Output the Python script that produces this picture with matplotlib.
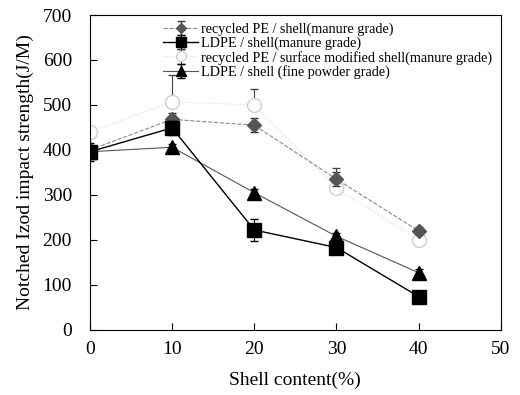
import matplotlib
matplotlib.use("Agg")
import matplotlib.pyplot as plt

plt.rcParams['font.family'] = ['Liberation Serif', 'DejaVu Serif']

x = [0, 10, 20, 30, 40]
rpe_shell = [400, 468, 455, 335, 220]
rpe_shell_err = [10, 15, 15, 15, 8]
ldpe_shell = [396, 449, 222, 183, 74]
ldpe_shell_err = [20, 15, 25, 12, 6]
rpe_mod = [440, 507, 500, 315, 200]
rpe_mod_err = [10, 60, 35, 45, 8]
ldpe_fine = [396, 406, 305, 208, 127]
ldpe_fine_err = [8, 8, 8, 8, 8]

labels = ["recycled PE / shell(manure grade)",
          "LDPE / shell(manure grade)",
          "recycled PE / surface modified shell(manure grade)",
          "LDPE / shell (fine powder grade)"]

fig = plt.figure(figsize=(5.2, 3.95), dpi=100)
ax = fig.add_axes([0.173, 0.165, 0.79, 0.797])

ax.errorbar(x, rpe_mod, yerr=[[0]*5, rpe_mod_err], color='#d8d8d8', lw=0.8, ls=':',
            marker='o', ms=10, mfc='white', mec='#cfcfcf', capsize=3,
            ecolor='#444444', elinewidth=0.8, label=labels[2], zorder=2)
ax.errorbar(x, rpe_shell, yerr=rpe_shell_err, color='#8a8a8a', lw=0.8, ls='--',
            marker='D', ms=7, mfc='#555555', mec='#555555', capsize=3,
            ecolor='#333333', elinewidth=0.8, label=labels[0], zorder=3)
ax.errorbar(x, ldpe_fine, yerr=ldpe_fine_err, color='#555555', lw=0.8,
            marker='^', ms=10, mfc='black', mec='black', capsize=3,
            ecolor='black', elinewidth=0.8, label=labels[3], zorder=4)
ax.errorbar(x, ldpe_shell, yerr=ldpe_shell_err, color='black', lw=1.0,
            marker='s', ms=10, mfc='black', mec='black', capsize=3,
            ecolor='black', elinewidth=0.8, label=labels[1], zorder=5)

h, l = ax.get_legend_handles_labels()
order = [l.index(s) for s in labels]
ax.legend([h[i] for i in order], [l[i] for i in order], loc='upper left',
          bbox_to_anchor=(0.178, 0.977), frameon=False, fontsize=10.2,
          handlelength=2.5, handletextpad=0.2, labelspacing=0.05,
          borderaxespad=0, borderpad=0, markerscale=0.7)

ax.set_xlim(0, 50)
ax.set_ylim(0, 700)
ax.set_xticks([0, 10, 20, 30, 40, 50])
ax.set_yticks(range(0, 701, 100))
ax.tick_params(direction='in', labelsize=14, length=5)
ax.tick_params(axis='x', pad=8)
ax.tick_params(axis='y', pad=13)
ax.set_xlabel("Shell content(%)", fontsize=14, labelpad=10)
ax.set_ylabel("Notched Izod impact strength(J/M)", fontsize=14, labelpad=6)

fig.savefig("out.png", dpi=100)
